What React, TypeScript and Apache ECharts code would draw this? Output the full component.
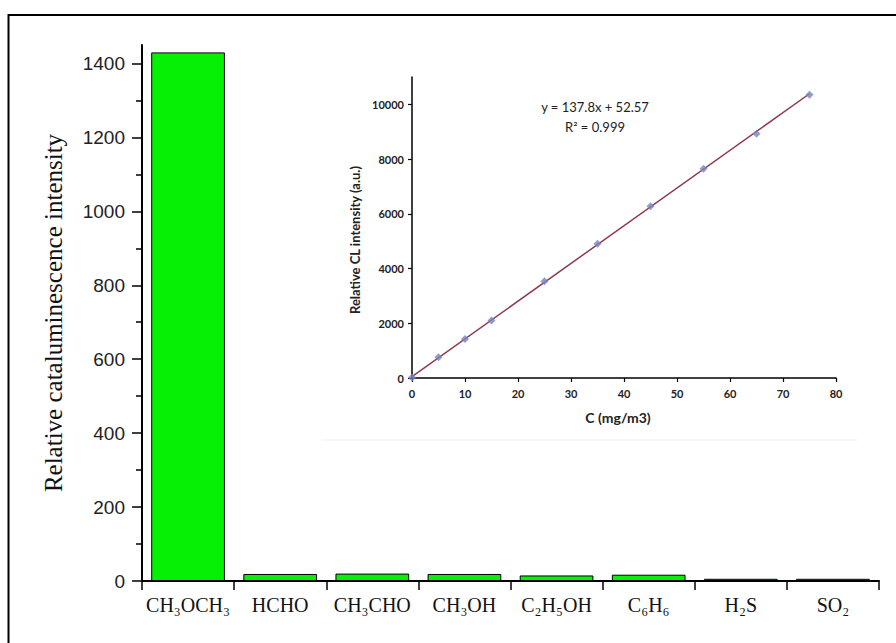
import React, { useEffect, useRef } from "react";
import * as echarts from "echarts";

// Main bar chart data
const categories = ["CH₃OCH₃", "HCHO", "CH₃CHO", "CH₃OH", "C₂H₅OH", "C₆H₆", "H₂S", "SO₂"];
const intensities = [1430, 19, 20, 19, 15, 17, 6, 6];
const mainYTicks = [0, 200, 400, 600, 800, 1000, 1200, 1400];
const mainYMinorTicks = [100, 300, 500, 700, 900, 1100, 1300];

// Inset calibration data
const concentrations = [0, 5, 10, 15, 25, 35, 45, 55, 65, 75];
const clIntensity = [20, 756, 1427, 2098, 3537, 4902, 6280, 7646, 8927, 10354];
const trendLine = [
  [0, 53],
  [75, 10388],
];
const insetYTicks = [0, 2000, 4000, 6000, 8000, 10000];
const equationText = "y = 137.8x + 52.57";
const r2Text = "R² = 0.999";

export default function App() {
  const ref = useRef<HTMLDivElement>(null);

  useEffect(() => {
    if (!ref.current) return;
    const chart = echarts.init(ref.current, null, { renderer: "svg" });
    const insetFont = "Lato, 'Open Sans', sans-serif";
    const plain = (v: number) => String(v);
    const option: any = {
      animation: false,
      backgroundColor: "#ffffff",
      grid: [
        { left: 142, right: 17, top: 45, bottom: 62, containLabel: false },
        { left: 412, right: 60, top: 77, bottom: 265, containLabel: false },
      ],
      xAxis: [
        {
          type: "category",
          gridIndex: 0,
          data: categories,
          axisLine: { lineStyle: { color: "#000", width: 2 } },
          axisTick: { show: true, length: 9, lineStyle: { color: "#000", width: 1.5 } },
          axisLabel: {
            interval: 0,
            color: "#111",
            fontFamily: "'Liberation Serif', 'Times New Roman', serif",
            fontSize: 20,
            margin: 14,
          },
          splitLine: { show: false },
        },
        {
          type: "value",
          gridIndex: 1,
          min: 0,
          max: 80,
          interval: 10,
          axisLine: { onZero: false, lineStyle: { color: "#000", width: 1.5 } },
          axisTick: { show: true, length: 4, lineStyle: { color: "#000", width: 1.2 } },
          axisLabel: {
            formatter: plain,
            color: "#222",
            fontFamily: insetFont,
            fontWeight: "bold",
            fontSize: 11,
            margin: 10,
          },
          splitLine: { show: false },
        },
      ],
      yAxis: [
        {
          type: "value",
          gridIndex: 0,
          min: 0,
          max: 1450,
          interval: 50,
          name: "Relative cataluminescence intensity",
          nameLocation: "middle",
          nameGap: 76,
          nameTextStyle: {
            color: "#111",
            fontFamily: "'Liberation Serif', 'Times New Roman', serif",
            fontSize: 25,
          },
          axisLine: { show: true, lineStyle: { color: "#000", width: 2 } },
          axisTick: {
            show: true,
            length: 10,
            customValues: mainYTicks,
            lineStyle: { color: "#000", width: 1.5 },
          },
          axisLabel: {
            customValues: mainYTicks,
            formatter: plain,
            color: "#222",
            fontFamily: "'Liberation Sans', Arial, sans-serif",
            fontSize: 19,
            margin: 17,
          },
          splitLine: { show: false },
        },
        {
          type: "value",
          gridIndex: 0,
          min: 0,
          max: 1450,
          interval: 50,
          position: "left",
          axisLine: { show: false },
          axisTick: {
            show: true,
            length: 6,
            customValues: mainYMinorTicks,
            lineStyle: { color: "#000", width: 1.5 },
          },
          axisLabel: { show: false },
          splitLine: { show: false },
        },
        {
          type: "value",
          gridIndex: 1,
          min: 0,
          max: 11000,
          interval: 1000,
          axisLine: { show: true, onZero: false, lineStyle: { color: "#000", width: 1.5 } },
          axisTick: {
            show: true,
            length: 4,
            customValues: insetYTicks,
            lineStyle: { color: "#000", width: 1.2 },
          },
          axisLabel: {
            customValues: insetYTicks,
            formatter: plain,
            color: "#222",
            fontFamily: insetFont,
            fontWeight: "bold",
            fontSize: 11,
            margin: 8,
          },
          splitLine: { show: false },
        },
      ],
      series: [
        {
          type: "bar",
          xAxisIndex: 0,
          yAxisIndex: 0,
          data: intensities,
          barCategoryGap: "20%",
          itemStyle: { color: "#05f005", borderColor: "#000", borderWidth: 1 },
          z: 3,
        },
        {
          type: "line",
          xAxisIndex: 1,
          yAxisIndex: 2,
          data: trendLine,
          symbol: "none",
          lineStyle: { color: "#8e3a4e", width: 1.5 },
          z: 3,
        },
        {
          type: "scatter",
          xAxisIndex: 1,
          yAxisIndex: 2,
          data: concentrations.map((c, i) => [c, clIntensity[i]]),
          symbol: "diamond",
          symbolSize: 8,
          itemStyle: { color: "#7586c0" },
          z: 4,
        },
      ],
      graphic: [
        {
          type: "line",
          shape: { x1: 8, y1: 15, x2: 896, y2: 15 },
          style: { stroke: "#000", lineWidth: 2 },
        },
        {
          type: "line",
          shape: { x1: 8.5, y1: 14, x2: 8.5, y2: 643 },
          style: { stroke: "#000", lineWidth: 2 },
        },
        {
          type: "line",
          shape: { x1: 323, y1: 440, x2: 857, y2: 440 },
          style: { stroke: "#ececec", lineWidth: 1 },
        },
        {
          type: "text",
          x: 595,
          y: 107,
          style: {
            text: equationText,
            fontFamily: insetFont,
            fontSize: 13,
            fill: "#222",
            align: "center",
            verticalAlign: "middle",
          },
        },
        {
          type: "text",
          x: 595,
          y: 127,
          style: {
            text: r2Text,
            fontFamily: insetFont,
            fontSize: 13,
            fill: "#222",
            align: "center",
            verticalAlign: "middle",
          },
        },
        {
          type: "text",
          x: 355,
          y: 240,
          rotation: Math.PI / 2,
          style: {
            text: "Relative CL intensity (a.u.)",
            fontFamily: insetFont,
            fontWeight: "bold",
            fontSize: 13,
            fill: "#222",
            align: "center",
            verticalAlign: "middle",
          },
        },
        {
          type: "text",
          x: 618,
          y: 417,
          style: {
            text: "C (mg/m3)",
            fontFamily: insetFont,
            fontWeight: "bold",
            fontSize: 14,
            fill: "#222",
            align: "center",
            verticalAlign: "middle",
          },
        },
      ],
    };
    chart.setOption(option);
    return () => chart.dispose();
  }, []);

  return (
    <div
      ref={ref}
      style={{ position: "fixed", left: 0, top: 0, width: 896, height: 643, background: "#fff" }}
    />
  );
}
